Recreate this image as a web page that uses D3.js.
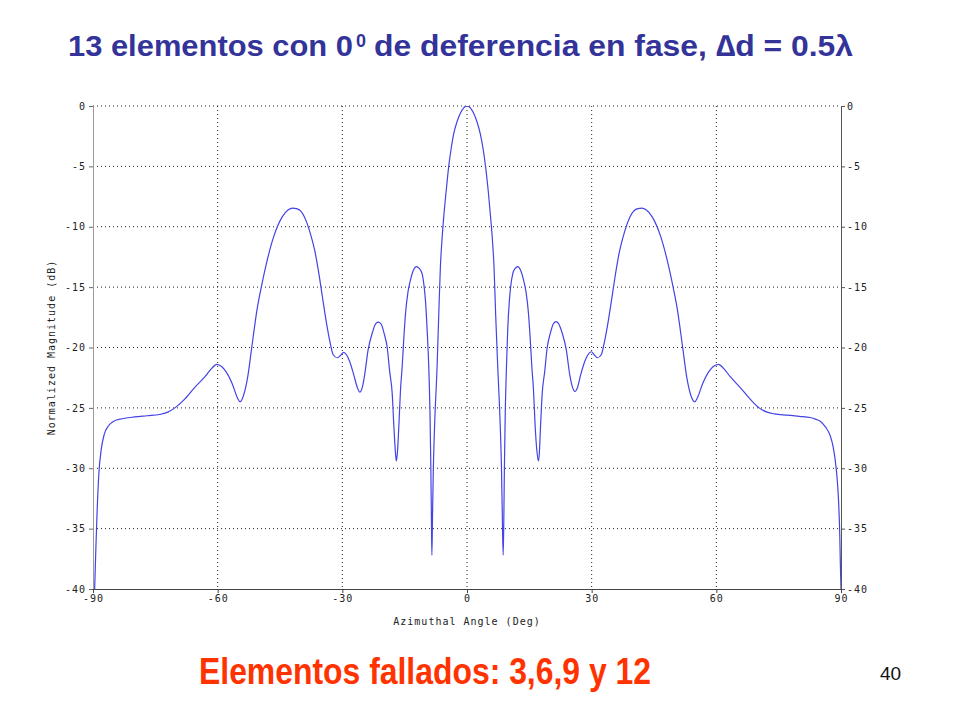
<!DOCTYPE html>
<html>
<head>
<meta charset="utf-8">
<script src="https://cdn.jsdelivr.net/npm/d3@7"></script>
<style>
  body { margin: 0; background: #fff; }
  .tick text { font-family: 'DejaVu Sans Mono', monospace; font-size: 10px; letter-spacing: 1px; fill: #222; }
  .grid { stroke: #222; stroke-width: 1; stroke-dasharray: 1, 3; }
</style>
</head>
<body>
<div id="vis"></div>
<script>
const FRAME_HEIGHT = 720;
const FRAME_WIDTH = 960;
const MARGINS = { left: 93, right: 119, top: 106, bottom: 131 };

// pattern, angle in degrees
const ANGLES = [
  -89.6, -89.3, -89.0, -88.6, -88.0, -87.3, -86.3, -85.0, -83.0, -80.0,
  -77.0, -74.0, -72.0, -70.3, -68.0, -65.5, -63.0, -61.5, -60.2, -59.0,
  -58.0, -56.5, -55.2, -54.6, -53.8, -52.8, -51.8, -50.5, -49.5, -48.1,
  -46.5, -44.5, -43.0, -42.0, -41.0, -40.0, -38.5, -37.5, -36.5, -35.5,
  -34.8, -33.8, -33.0, -32.2, -31.2, -30.3, -29.7, -29.0, -28.3, -27.3,
  -26.3, -25.8, -25.2, -24.6, -23.8, -22.8, -21.9, -21.3, -20.6, -19.9,
  -19.2, -18.6, -18.0, -17.6, -17.2, -17.0, -16.7, -16.4, -16.0, -15.6,
  -15.2, -14.8, -14.2, -13.6, -12.9, -12.2, -11.5, -10.8, -10.3, -10.0,
  -9.6, -9.2, -8.9, -8.7, -8.55, -8.45, -8.3, -8.1, -7.8, -7.2,
  -6.8, -6.4, -6.0, -5.6, -5.0, -4.4, -3.8, -3.2, -2.4, -1.6,
  -0.8, 0,
  0.8, 1.6, 2.4, 3.2, 3.9, 4.5, 5.1, 5.7, 6.1, 6.5,
  6.9, 7.4, 8.0, 8.3, 8.5, 8.7, 8.85, 9.0, 9.2, 9.5,
  9.8, 10.2, 10.5, 11.0, 11.6, 12.2, 12.9, 13.6, 14.2, 14.8,
  15.2, 15.6, 16.0, 16.4, 16.8, 17.2, 17.4, 17.7, 18.1, 18.7,
  19.3, 20.0, 20.7, 21.4, 22.0, 22.9, 23.9, 24.7, 25.4, 26.0,
  26.5, 27.4, 28.4, 29.1, 29.9, 30.6, 31.4, 32.3, 33.1, 33.9,
  34.9, 35.6, 36.6, 37.6, 38.6, 40.1, 41.1, 42.1, 43.1, 44.6,
  46.6, 48.2, 49.6, 50.6, 51.9, 52.9, 53.9, 54.8, 55.4, 56.7,
  58.2, 59.2, 60.5, 61.8, 63.3, 65.7, 68.2, 70.3, 72.2, 74.0,
  77.0, 80.0, 82.6, 84.0, 85.0, 86.3, 87.4, 88.1, 88.6, 89.1,
  89.4, 89.7, 89.85, 90.0
];

// normalized magnitude in dB, same order as ANGLES
const MAGNITUDES = [
  -40.0, -36.5, -33.5, -30.5, -28.4, -27.2, -26.5, -26.1, -25.9, -25.75,
  -25.65, -25.55, -25.35, -25.0, -24.3, -23.3, -22.4, -21.75, -21.4, -21.6,
  -22.0, -23.0, -24.2, -24.5, -24.0, -22.5, -20.0, -16.8, -15.0, -12.8,
  -10.8, -9.2, -8.6, -8.45, -8.5, -8.7, -9.7, -10.8, -12.2, -14.2,
  -15.8, -18.0, -19.5, -20.6, -20.85, -20.6, -20.4, -20.6, -21.1, -22.2,
  -23.4, -23.7, -23.3, -22.2, -20.2, -18.8, -18.0, -17.9, -18.1, -18.9,
  -20.0, -22.0, -23.8, -26.5, -28.8, -29.4, -28.5, -26.5, -23.5, -21.6,
  -19.2, -17.2, -15.4, -14.4, -13.6, -13.3, -13.45, -13.9, -15.0, -16.1,
  -18.5, -21.6, -25.5, -30.0, -34.5, -37.2, -34.0, -30.0, -26.5, -21.6,
  -17.3, -13.3, -11.0, -9.2, -7.0, -5.0, -3.5, -2.3, -1.3, -0.6,
  -0.15, 0,
  -0.15, -0.6, -1.3, -2.3, -3.6, -5.1, -7.0, -9.3, -11.0, -13.3,
  -17.3, -21.6, -26.5, -30.0, -34.0, -37.2, -34.5, -30.0, -25.5, -21.6,
  -18.5, -16.1, -15.0, -13.9, -13.45, -13.3, -13.6, -14.4, -15.4, -17.2,
  -19.2, -21.6, -23.5, -26.5, -28.5, -29.4, -28.8, -26.5, -23.8, -22.0,
  -20.0, -18.9, -18.1, -17.85, -18.0, -18.8, -20.2, -22.2, -23.3, -23.65,
  -23.4, -22.2, -21.1, -20.6, -20.35, -20.6, -20.85, -20.6, -19.5, -18.0,
  -15.8, -14.2, -12.2, -10.8, -9.7, -8.7, -8.5, -8.45, -8.6, -9.2,
  -10.8, -12.8, -15.0, -16.8, -20.0, -22.5, -24.0, -24.5, -24.2, -23.0,
  -22.0, -21.6, -21.4, -21.75, -22.4, -23.3, -24.3, -25.0, -25.35, -25.5,
  -25.6, -25.7, -25.8, -25.95, -26.1, -26.6, -27.3, -28.2, -29.3, -31.0,
  -32.6, -35.5, -38.0, -40.0
];

const X_TICKS = [-90, -60, -30, 0, 30, 60, 90];
const Y_TICKS = [0, -5, -10, -15, -20, -25, -30, -35, -40];

const TITLE_MAIN = '13 elementos con 0';
const TITLE_SUP = '0';
const TITLE_REST = ' de deferencia en fase, \u2206d = 0.5\u03bb';
const NOTE = 'Elementos fallados: 3,6,9 y 12';
const PAGE = '40';
const X_LABEL = 'Azimuthal Angle (Deg)';
const Y_LABEL = 'Normalized Magnitude (dB)';

function buildChart() {
  const VIS_HEIGHT = FRAME_HEIGHT - MARGINS.top - MARGINS.bottom;
  const VIS_WIDTH = FRAME_WIDTH - MARGINS.left - MARGINS.right;

  const FRAME = d3
    .select('#vis')
    .append('svg')
    .attr('height', FRAME_HEIGHT)
    .attr('width', FRAME_WIDTH);

  const X_SCALE = d3.scaleLinear().domain([-90, 90]).range([0, VIS_WIDTH]);
  const Y_SCALE = d3.scaleLinear().domain([-40, 0]).range([VIS_HEIGHT, 0]);

  const PLOT = FRAME.append('g')
    .attr('transform', 'translate(' + MARGINS.left + ',' + MARGINS.top + ')');

  // dotted grid
  PLOT.selectAll('.hgrid')
    .data(Y_TICKS.filter((d) => d > -40))
    .enter()
    .append('line')
    .attr('class', 'grid')
    .attr('x1', 0)
    .attr('x2', VIS_WIDTH)
    .attr('y1', (d) => Y_SCALE(d))
    .attr('y2', (d) => Y_SCALE(d));

  PLOT.selectAll('.vgrid')
    .data(X_TICKS.filter((d) => d > -90 && d < 90))
    .enter()
    .append('line')
    .attr('class', 'grid')
    .attr('y1', 0)
    .attr('y2', VIS_HEIGHT)
    .attr('x1', (d) => X_SCALE(d))
    .attr('x2', (d) => X_SCALE(d));

  // axes
  const fmt = (d) => String(d);

  const leftAxis = PLOT.append('g')
    .call(d3.axisLeft(Y_SCALE).tickValues(Y_TICKS).tickSize(4).tickSizeOuter(0).tickFormat(fmt));
  leftAxis.select('.domain').attr('stroke', '#9a9a9a');
  leftAxis.selectAll('.tick line').attr('stroke', '#666');

  const rightAxis = PLOT.append('g')
    .attr('transform', 'translate(' + VIS_WIDTH + ',0)')
    .call(d3.axisRight(Y_SCALE).tickValues(Y_TICKS).tickSize(4).tickSizeOuter(0).tickFormat(fmt));
  rightAxis.select('.domain').attr('stroke', '#555');
  rightAxis.selectAll('.tick line').attr('stroke', '#555');
  rightAxis.selectAll('.tick text').attr('x', 6);

  const bottomAxis = PLOT.append('g')
    .attr('transform', 'translate(0,' + VIS_HEIGHT + ')')
    .call(d3.axisBottom(X_SCALE).tickValues(X_TICKS).tickSize(4).tickSizeOuter(0).tickFormat(fmt));
  bottomAxis.select('.domain').attr('stroke', '#444');
  bottomAxis.selectAll('.tick line').attr('stroke', '#444');
  bottomAxis.selectAll('.tick text').attr('y', 6);

  // pattern curve
  PLOT.append('clipPath')
    .attr('id', 'plot-clip')
    .append('rect')
    .attr('width', VIS_WIDTH)
    .attr('height', VIS_HEIGHT + 1);

  const points = ANGLES.map((a, i) => ({ angle: a, db: MAGNITUDES[i] }));

  const line = d3
    .line()
    .x((d) => X_SCALE(d.angle))
    .y((d) => Y_SCALE(d.db))
    .curve(d3.curveMonotoneX);

  PLOT.append('path')
    .datum(points)
    .attr('clip-path', 'url(#plot-clip)')
    .attr('fill', 'none')
    .attr('stroke', '#4343e6')
    .attr('stroke-width', 1.2)
    .attr('d', line);

  // axis titles
  PLOT.append('text')
    .attr('x', X_SCALE(0))
    .attr('y', VIS_HEIGHT + 36)
    .attr('text-anchor', 'middle')
    .attr('font-family', 'DejaVu Sans Mono, monospace')
    .attr('font-size', '10px')
    .attr('letter-spacing', '1px')
    .attr('fill', '#222')
    .text(X_LABEL);

  PLOT.append('text')
    .attr('transform', 'translate(' + -38 + ',' + VIS_HEIGHT / 2 + ') rotate(-90)')
    .attr('text-anchor', 'middle')
    .attr('font-family', 'DejaVu Sans Mono, monospace')
    .attr('font-size', '10px')
    .attr('letter-spacing', '1px')
    .attr('fill', '#222')
    .text(Y_LABEL);

  // slide title
  const titleFont = 'Liberation Sans, Arial, sans-serif';
  FRAME.append('text')
    .attr('x', 68)
    .attr('y', 56)
    .attr('font-family', titleFont)
    .attr('font-weight', 'bold')
    .attr('font-size', '30px')
    .attr('fill', '#333399')
    .attr('textLength', 285)
    .attr('lengthAdjust', 'spacingAndGlyphs')
    .text(TITLE_MAIN);

  FRAME.append('text')
    .attr('x', 356)
    .attr('y', 47)
    .attr('font-family', titleFont)
    .attr('font-weight', 'bold')
    .attr('font-size', '18px')
    .attr('fill', '#333399')
    .text(TITLE_SUP);

  FRAME.append('text')
    .attr('x', 374)
    .attr('y', 56)
    .attr('font-family', titleFont)
    .attr('font-weight', 'bold')
    .attr('font-size', '30px')
    .attr('fill', '#333399')
    .attr('textLength', 479)
    .attr('lengthAdjust', 'spacingAndGlyphs')
    .text(TITLE_REST);

  // footer note and page number
  FRAME.append('text')
    .attr('x', 199)
    .attr('y', 684)
    .attr('font-family', 'Liberation Sans Narrow, Liberation Sans, Arial, sans-serif')
    .attr('font-weight', 'bold')
    .attr('font-size', '37px')
    .attr('fill', '#ff3300')
    .attr('textLength', 452)
    .attr('lengthAdjust', 'spacingAndGlyphs')
    .text(NOTE);

  FRAME.append('text')
    .attr('x', 880)
    .attr('y', 680)
    .attr('font-family', 'Liberation Sans, Arial, sans-serif')
    .attr('font-size', '19px')
    .attr('fill', '#111')
    .text(PAGE);
}

buildChart();
</script>
</body>
</html>
